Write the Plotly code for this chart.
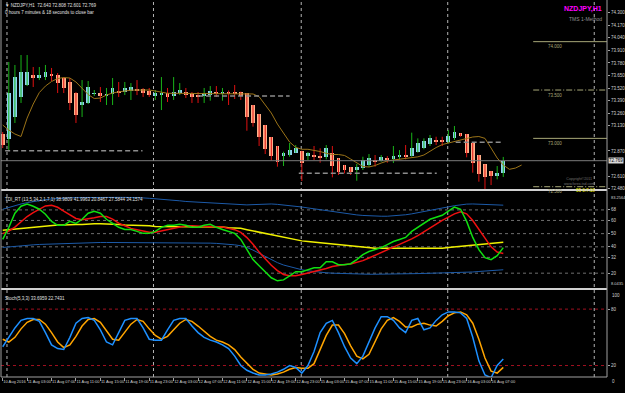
import plotly.graph_objects as go
from plotly.subplots import make_subplots

# ---------------- data ----------------
opens = [73.045, 72.993, 73.221, 73.428, 73.552, 73.655, 73.624, 73.634, 73.666, 73.655,
         73.624, 73.583, 73.469, 73.345, 73.366, 73.459, 73.469, 73.448, 73.459, 73.490,
         73.479, 73.490, 73.510, 73.510, 73.490, 73.438, 73.448, 73.469, 73.438, 73.469,
         73.479, 73.469, 73.448, 73.438, 73.448, 73.479, 73.469, 73.479, 73.479, 73.476,
         73.469, 73.345, 73.252, 73.138, 73.014, 72.921, 72.817, 72.828, 72.852, 72.872,
         72.817, 72.823, 72.817, 72.804, 72.845, 72.793, 72.724, 72.700, 72.673, 72.690,
         72.724, 72.776, 72.769, 72.800, 72.783, 72.804, 72.828, 72.817, 72.862, 72.903,
         72.938, 72.983, 72.976, 72.965, 73.000, 73.052, 73.045, 72.955, 72.828, 72.731,
         72.662, 72.610, 72.643]
highs = [73.066, 73.790, 73.759, 73.862, 73.862, 73.738, 73.738, 73.759, 73.728, 73.676,
         73.634, 73.624, 73.479, 73.603, 73.593, 73.500, 73.531, 73.521, 73.624, 73.583,
         73.583, 73.572, 73.603, 73.521, 73.521, 73.500, 73.634, 73.521, 73.634, 73.572,
         73.521, 73.479, 73.479, 73.521, 73.541, 73.541, 73.521, 73.495, 73.552, 73.483,
         73.469, 73.345, 73.252, 73.138, 73.014, 72.921, 72.862, 72.952, 72.931, 72.872,
         72.859, 72.921, 72.897, 72.931, 72.921, 72.793, 72.724, 72.704, 72.735, 72.810,
         72.838, 72.828, 72.828, 72.817, 72.921, 72.879, 72.931, 73.059, 73.000, 73.000,
         73.035, 73.017, 73.017, 73.086, 73.128, 73.052, 73.045, 72.955, 72.828, 72.731,
         72.662, 72.714, 72.808]
lows = [72.900, 72.879, 73.159, 73.366, 73.541, 73.531, 73.603, 73.603, 73.593, 73.469,
        73.469, 73.293, 73.159, 73.221, 73.355, 73.438, 73.376, 73.345, 73.345, 73.428,
        73.448, 73.397, 73.448, 73.428, 73.428, 73.397, 73.293, 73.376, 73.397, 73.448,
        73.417, 73.366, 73.366, 73.366, 73.390, 73.428, 73.390, 73.345, 73.407, 73.397,
        73.079, 73.121, 72.921, 72.838, 72.769, 72.707, 72.714, 72.810, 72.852, 72.559,
        72.776, 72.776, 72.748, 72.783, 72.597, 72.621, 72.638, 72.621, 72.562, 72.673,
        72.707, 72.707, 72.758, 72.748, 72.745, 72.783, 72.783, 72.810, 72.852, 72.887,
        72.921, 72.931, 72.921, 72.948, 72.983, 73.017, 72.804, 72.645, 72.552, 72.476,
        72.517, 72.576, 72.601]
closes = [72.931, 73.469, 73.634, 73.686, 73.686, 73.624, 73.655, 73.686, 73.645, 73.572,
          73.521, 73.366, 73.241, 73.376, 73.531, 73.469, 73.438, 73.459, 73.521, 73.479,
          73.521, 73.531, 73.500, 73.469, 73.448, 73.469, 73.469, 73.428, 73.479, 73.500,
          73.448, 73.428, 73.428, 73.469, 73.490, 73.469, 73.480, 73.469, 73.469, 73.438,
          73.221, 73.159, 73.014, 72.890, 72.817, 72.758, 72.845, 72.879, 72.900, 72.748,
          72.848, 72.812, 72.793, 72.897, 72.714, 72.655, 72.673, 72.655, 72.707, 72.776,
          72.793, 72.758, 72.810, 72.776, 72.821, 72.828, 72.807, 72.903, 72.948, 72.972,
          73.007, 72.972, 72.969, 73.024, 73.069, 73.024, 72.852, 72.742, 72.631, 72.597,
          72.610, 72.645, 72.769]

# shifted moving average (extends 3 bars past the last candle)
ma = [73.138, 73.086, 73.045, 73.019, 73.210, 73.355, 73.474, 73.541, 73.588, 73.619,
      73.629, 73.624, 73.583, 73.521, 73.453, 73.412, 73.417, 73.448, 73.469, 73.481,
      73.490, 73.498, 73.500, 73.500, 73.500, 73.490, 73.474, 73.466, 73.466, 73.466,
      73.466, 73.466, 73.466, 73.466, 73.466, 73.466, 73.466, 73.466, 73.466, 73.466,
      73.466, 73.459, 73.431, 73.345, 73.262, 73.148, 73.055, 72.962, 72.907, 72.887,
      72.887, 72.879, 72.864, 72.845, 72.833, 72.833, 72.823, 72.786, 72.745, 72.709,
      72.704, 72.719, 72.745, 72.766, 72.776, 72.784, 72.791, 72.802, 72.809, 72.828,
      72.869, 72.905, 72.936, 72.952, 72.967, 72.978, 72.993, 73.014, 73.019, 73.000,
      72.900, 72.797, 72.724, 72.680, 72.693, 72.724]

# dashed support / resistance segments: level, first bar, last bar
sr_level = [72.872, 73.438, 72.638, 72.959]
sr_from = [0.4, 32.0, 48.5, 74.2]
sr_to = [22.9, 47.0, 71.1, 81.7]

# round-number levels (drawn at the right side of the chart)
round_levels = [74.000, 73.500, 73.000, 72.500]
round_solid = [True, False, True, False]
round_text = ["74.000", "73.500", "73.000", "72.500"]
round_from = 86.9

bid = 72.769

price_ticks = [74.300, 74.170, 74.040, 73.910, 73.780, 73.650, 73.520, 73.390,
               73.260, 73.130, 72.870, 72.610, 72.480]

# TDI
tdi_green = [45.6, 54.8, 65.5, 70.8, 72.4, 70.8, 68.5, 64.7, 59.3, 56.3,
             56.3, 59.3, 57.8, 60.9, 65.5, 67.0, 65.5, 60.9, 57.8, 54.8,
             53.2, 53.2, 51.7, 50.2, 50.2, 51.7, 54.8, 56.3, 56.3, 57.1,
             56.3, 54.8, 54.8, 56.3, 57.1, 54.8, 53.2, 51.7, 50.2, 45.6,
             37.9, 30.3, 25.7, 21.1, 16.5, 14.2, 14.9, 18.0, 21.1, 21.1,
             22.6, 24.1, 24.1, 28.7, 28.7, 26.4, 26.4, 27.2, 30.3, 34.1,
             36.4, 37.9, 39.4, 41.7, 44.0, 45.6, 47.1, 51.7, 54.8, 57.8,
             60.9, 62.4, 63.9, 67.0, 70.1, 68.5, 59.3, 47.1, 37.9, 31.8,
             30.3, 33.3, 39.4]
tdi_red = [50, 52, 55, 59, 63, 66, 68.5, 71, 71.5, 70,
           67, 64, 61.5, 60.5, 61, 62, 63, 63, 61, 58,
           56, 54, 53, 52, 51, 51, 52, 53, 54.5, 55.5,
           56, 56, 55.5, 55.5, 55.5, 55.5, 55, 54, 53, 51,
           47, 42, 36, 31, 26, 22, 19, 18, 18, 19,
           20, 21, 22, 23.5, 25, 26, 26.5, 27, 28, 29.5,
           31.5, 33.5, 35.5, 37.5, 39.5, 41.5, 43.5, 46, 48.5, 51.5,
           54.5, 57.5, 60, 62.5, 65, 66.5, 65, 60, 53, 46,
           40, 36, 35]
tdi_yellow = [52.5, 53, 53.5, 54, 54.5, 55, 55.5, 56, 56, 56.5,
              56.5, 57, 57, 57, 57.5, 57.5, 57.5, 57.5, 57, 57,
              56.5, 56.5, 56, 56, 56, 55.5, 55.5, 55.5, 55.5, 55.5,
              55.5, 55.5, 55.5, 55.5, 55.5, 55, 55, 54.5, 54.5, 54,
              53, 52, 51, 50, 49, 48, 47, 46, 45, 44.5,
              44, 43.5, 43, 42.5, 42, 41.5, 41, 40.5, 40, 39.5,
              39.5, 39, 39, 39, 38.5, 38.5, 38.5, 38.5, 38.5, 38.5,
              38.5, 39, 39, 39.5, 40, 40.5, 41, 41.5, 42, 42.5,
              43, 43.3, 43.5]
tdi_upper = [68.5, 70, 71.5, 72.5, 73.5, 74.4, 75.2, 75.8, 76.3, 76.7,
             77, 77.2, 77.3, 77.4, 77.5, 77.5, 77.5, 77.5, 77.5, 77.5,
             77.5, 77.5, 77.3, 77.1, 76.8, 76.5, 76.2, 75.8, 75.3, 74.9,
             74.4, 74.1, 73.8, 73.5, 73.3, 73.1, 72.8, 72.5, 72.2, 72,
             71.8, 72, 72.3, 72.5, 72.5, 72.2, 71.8, 71.3, 70.8, 70.2,
             69.5, 68.8, 68, 67.2, 66.5, 65.8, 65.2, 64.6, 64.2, 63.8,
             63.5, 63.3, 63.2, 63.2, 63.4, 63.8, 64.3, 65, 65.8, 66.7,
             67.6, 68.5, 69.4, 70.3, 71.2, 72, 72.4, 72.5, 72.4, 72.2,
             72, 71.8, 71.6]
tdi_lower = [39.5, 40, 40.5, 41, 41.2, 41.5, 41.8, 42, 42.2, 42.4,
             42.6, 42.8, 43, 43.1, 43.2, 43.3, 43.3, 43.3, 43.3, 43.3,
             43.3, 43.3, 43.3, 43.3, 43.3, 43.3, 43.3, 43.3, 43.2, 43.1,
             43, 43, 43, 42.9, 42.8, 42.6, 42.3, 42, 41.5, 40.8,
             39.5, 37.5, 35, 32.5, 30, 28, 26.2, 24.8, 23.6, 22.6,
             21.8, 21.2, 20.7, 20.3, 20, 19.8, 19.6, 19.4, 19.3, 19.2,
             19.2, 19.2, 19.2, 19.2, 19.3, 19.4, 19.5, 19.6, 19.7, 19.8,
             19.9, 20, 20.1, 20.2, 20.3, 20.4, 20.6, 20.9, 21.3, 21.7,
             22, 22.3, 22.6]
tdi_levels = [68, 60, 50, 40, 32, 20]
tdi_max_text = "83.2564"
tdi_min_text = "8.0435"

# Stochastic
stoch_k = [40, 50, 60, 68, 70, 70, 67, 55, 42, 38,
           37, 50, 65, 70, 71, 68, 58, 45, 42, 55,
           68, 70, 70, 60, 48, 47, 47, 58, 68, 70,
           70, 62, 55, 50, 47, 45, 42, 38, 30, 20,
           15, 12, 10, 10, 11, 13, 16, 20, 18, 12,
           20, 35, 55, 65, 68, 55, 40, 28, 22, 30,
           45, 60, 72, 72, 68, 60, 55, 68, 70, 58,
           60, 68, 74, 77, 77, 76, 70, 50, 25, 10,
           7, 20, 27]
stoch_d = [48, 45, 50, 59, 66, 69, 69, 64, 55, 45,
           39, 42, 51, 62, 69, 70, 66, 57, 48, 47,
           55, 64, 69, 67, 59, 52, 48, 51, 58, 65,
           69, 67, 62, 56, 51, 47, 45, 42, 37, 29,
           22, 16, 12, 11, 10, 11, 13, 16, 18, 17,
           17, 22, 37, 52, 63, 63, 54, 41, 30, 27,
           32, 45, 59, 68, 71, 67, 61, 61, 64, 65,
           63, 62, 67, 73, 76, 77, 74, 65, 48, 28,
           14, 12, 18]
stoch_levels = [80, 20]

tick_pos = [0, 4, 8, 12, 16, 20, 24, 28, 32, 36, 40, 44, 48, 52, 56, 60, 64, 68, 72, 76, 80]
tick_text = ["10 Aug 2016", "11 Aug 03:00", "11 Aug 07:00", "11 Aug 11:00", "11 Aug 15:00",
             "11 Aug 19:00", "11 Aug 23:00", "12 Aug 03:00", "12 Aug 07:00", "12 Aug 11:00",
             "12 Aug 15:00", "12 Aug 19:00", "12 Aug 23:00", "15 Aug 03:00", "15 Aug 07:00",
             "15 Aug 11:00", "15 Aug 15:00", "15 Aug 19:00", "15 Aug 23:00", "16 Aug 03:00",
             "16 Aug 07:00"]
day_breaks = [0.7, 24.7, 48.9, 72.9, 96.9]

# ---------------- figure ----------------
W, H = 625, 393
ML, MR, MT, MB = 1, 16, 0, 16
PH = H - MT - MB
XR = [-0.28, 98.99]

fig = make_subplots(rows=3, cols=1, shared_xaxes=True, vertical_spacing=0)

n = len(opens)
xs = list(range(n))

# wicks
bw_x, bw_y, rw_x, rw_y = [], [], [], []
for i in xs:
    if closes[i] >= opens[i]:
        bw_x += [i, i, None]; bw_y += [lows[i], highs[i], None]
    else:
        rw_x += [i, i, None]; rw_y += [lows[i], highs[i], None]
fig.add_trace(go.Scatter(x=bw_x, y=bw_y, mode="lines", line=dict(color="#18b418", width=1),
                         hoverinfo="skip"), row=1, col=1)
fig.add_trace(go.Scatter(x=rw_x, y=rw_y, mode="lines", line=dict(color="#e01010", width=1),
                         hoverinfo="skip"), row=1, col=1)

# bodies
MINB = 0.009
bx, bb, bh, sx, sb, sh = [], [], [], [], [], []
for i in xs:
    lo, hi = min(opens[i], closes[i]), max(opens[i], closes[i])
    if hi - lo < MINB:
        mid = (hi + lo) / 2
        lo, hi = mid - MINB / 2, mid + MINB / 2
    if closes[i] >= opens[i]:
        bx.append(i); bb.append(lo); bh.append(hi - lo)
    else:
        sx.append(i); sb.append(lo); sh.append(hi - lo)
fig.add_trace(go.Bar(x=bx, y=bh, base=bb, width=0.62, marker=dict(color="#8fd3f0", line=dict(width=0))),
              row=1, col=1)
fig.add_trace(go.Bar(x=sx, y=sh, base=sb, width=0.62, marker=dict(color="#ffb08a", line=dict(width=0))),
              row=1, col=1)

# MA
fig.add_trace(go.Scatter(x=list(range(len(ma))), y=ma, mode="lines",
                         line=dict(color="#9c7418", width=1)), row=1, col=1)

# bid line
fig.add_trace(go.Scatter(x=XR, y=[bid, bid], mode="lines", line=dict(color="#7a7a7a", width=1)),
              row=1, col=1)

# dashed S/R
for lv, a, b in zip(sr_level, sr_from, sr_to):
    fig.add_trace(go.Scatter(x=[a, b], y=[lv, lv], mode="lines",
                             line=dict(color="#8c8c8c", width=1.5, dash="5px,3px")), row=1, col=1)

# round levels
for lv, solid in zip(round_levels, round_solid):
    fig.add_trace(go.Scatter(x=[round_from, XR[1]], y=[lv, lv], mode="lines",
                             line=dict(color="#a8a878", width=1, dash="solid" if solid else "6px,2px,1px,2px")),
                  row=1, col=1)

# TDI
fig.add_trace(go.Scatter(x=xs, y=tdi_upper, mode="lines", line=dict(color="#1c5aa8", width=1)), row=2, col=1)
fig.add_trace(go.Scatter(x=xs, y=tdi_lower, mode="lines", line=dict(color="#1c5aa8", width=1)), row=2, col=1)
fig.add_trace(go.Scatter(x=xs, y=tdi_yellow, mode="lines", line=dict(color="#f0f000", width=1.5)), row=2, col=1)
fig.add_trace(go.Scatter(x=xs, y=tdi_red, mode="lines", line=dict(color="#f01010", width=1.5)), row=2, col=1)
fig.add_trace(go.Scatter(x=xs, y=tdi_green, mode="lines", line=dict(color="#10e010", width=1.5)), row=2, col=1)

# Stochastic
fig.add_trace(go.Scatter(x=xs, y=stoch_d, mode="lines", line=dict(color="#ffa500", width=1.5)), row=3, col=1)
fig.add_trace(go.Scatter(x=xs, y=stoch_k, mode="lines", line=dict(color="#1e90ff", width=1.5)), row=3, col=1)

shapes = []
for lv in tdi_levels:
    shapes.append(dict(type="line", xref="x2", yref="y2", x0=XR[0], x1=XR[1], y0=lv, y1=lv,
                       line=dict(color="#6e6e6e", width=1, dash="dot"), layer="below"))
for lv in stoch_levels:
    shapes.append(dict(type="line", xref="x3", yref="y3", x0=XR[0], x1=XR[1], y0=lv, y1=lv,
                       line=dict(color="#a01020", width=1, dash="dot"), layer="below"))
for d in day_breaks:
    shapes.append(dict(type="line", xref="x", yref="paper", x0=d, x1=d, y0=0, y1=1,
                       line=dict(color="#b4b4b4", width=1, dash="dot"), layer="below"))
# panel separators and frame
f1 = 187 / PH
f2 = 88 / PH
for f in (f1, f2):
    shapes.append(dict(type="line", xref="paper", yref="paper", x0=0, x1=1, y0=f, y1=f,
                       line=dict(color="#d0d0d0", width=2)))
shapes.append(dict(type="line", xref="paper", yref="paper", x0=1, x1=1, y0=0, y1=1,
                   line=dict(color="#a0a0a0", width=1)))
shapes.append(dict(type="line", xref="paper", yref="paper", x0=0, x1=0, y0=0, y1=1,
                   line=dict(color="#a0a0a0", width=1)))
shapes.append(dict(type="line", xref="paper", yref="paper", x0=0, x1=1, y0=0, y1=0,
                   line=dict(color="#a0a0a0", width=1)))

FONT = "Liberation Sans, Arial, sans-serif"
ann = []
ann.append(dict(xref="paper", yref="paper", x=0.004, y=0.998, xanchor="left", yanchor="top",
                text="▼ NZDJPY,H1  72.643 72.808 72.601 72.769", showarrow=False,
                font=dict(size=4.5, color="#e0e0e0", family=FONT)))
ann.append(dict(xref="paper", yref="paper", x=0.004, y=0.980, xanchor="left", yanchor="top",
                text="0 hours 7 minutes & 18 seconds to close bar", showarrow=False,
                font=dict(size=4.5, color="#e0e0e0", family=FONT)))
ann.append(dict(xref="paper", yref="paper", x=0.995, y=0.992, xanchor="right", yanchor="top",
                text="<b>NZDJPY,H1</b>", showarrow=False, font=dict(size=7, color="#ff00ff", family=FONT)))
ann.append(dict(xref="paper", yref="paper", x=0.995, y=0.963, xanchor="right", yanchor="top",
                text="TMS 1-Method", showarrow=False, font=dict(size=5, color="#909090", family=FONT)))
for lv, t in zip(round_levels, round_text):
    ann.append(dict(xref="x", yref="y", x=89.0, y=lv, xanchor="left", yanchor="top", yshift=-0.5,
                    text=t, showarrow=False, font=dict(size=4.5, color="#a8a878", family=FONT)))
ann.append(dict(xref="paper", yref="paper", x=1.0, y=(bid - 72.466) / (74.431 - 72.466) * (1 - f1) + f1,
                xanchor="left", yanchor="middle", text="72.769", showarrow=False, bgcolor="#d8d8d8",
                borderpad=0, xshift=1, font=dict(size=4.5, color="#000000", family=FONT)))
ann.append(dict(xref="paper", yref="paper", x=0.925, y=(1 - 175 / PH), xanchor="left", yanchor="top",
                text="Copyright©2011<br>www.forex-tsd.com", showarrow=False,
                font=dict(size=3.6, color="#707070", family=FONT)))
ann.append(dict(xref="paper", yref="paper", x=0.945, y=(1 - 186 / PH), xanchor="left", yanchor="top",
                text="55 0:7:18", showarrow=False, font=dict(size=4.5, color="#e8e800", family=FONT)))
ann.append(dict(xref="paper", yref="paper", x=0.004, y=f1 - 0.012, xanchor="left", yanchor="top",
                text="TDI_RT (13,5,34,2,1,7,1) 38.9809 41.9963 20.8467 27.5844 34.1574", showarrow=False,
                font=dict(size=4.5, color="#e0e0e0", family=FONT)))
ann.append(dict(xref="paper", yref="paper", x=0.004, y=f2 - 0.012, xanchor="left", yanchor="top",
                text="Stoch(5,3,3) 33.6959 22.7431", showarrow=False,
                font=dict(size=4.5, color="#e0e0e0", family=FONT)))
# indicator window max/min labels on the right scale
ann.append(dict(xref="paper", yref="paper", x=1.0, y=f1 - 0.008, xanchor="left", yanchor="top", xshift=2,
                text=tdi_max_text, showarrow=False, font=dict(size=4, color="#d0d0d0", family=FONT)))
ann.append(dict(xref="paper", yref="paper", x=1.0, y=f2 + 0.002, xanchor="left", yanchor="bottom", xshift=2,
                text=tdi_min_text, showarrow=False, font=dict(size=4, color="#d0d0d0", family=FONT)))
ann.append(dict(xref="paper", yref="paper", x=1.0, y=f2 - 0.004, xanchor="left", yanchor="top", xshift=3,
                text="100", showarrow=False, font=dict(size=4.5, color="#d0d0d0", family=FONT)))
ann.append(dict(xref="paper", yref="paper", x=1.0, y=0, xanchor="left", yanchor="top", xshift=3,
                text="0", showarrow=False, font=dict(size=4.5, color="#d0d0d0", family=FONT)))

fig.update_layout(
    width=W, height=H, margin=dict(l=ML, r=MR, t=MT, b=MB),
    paper_bgcolor="#000000", plot_bgcolor="#000000", showlegend=False,
    barmode="overlay", bargap=0, shapes=shapes, annotations=ann,
    font=dict(family=FONT, color="#d0d0d0", size=5),
)

axis_common = dict(showgrid=False, zeroline=False, showline=False)
for r in (1, 2, 3):
    fig.update_xaxes(range=XR, row=r, col=1, **axis_common)
fig.update_xaxes(showticklabels=False, row=1, col=1)
fig.update_xaxes(showticklabels=False, row=2, col=1)
fig.update_xaxes(tickvals=tick_pos, ticktext=tick_text, ticks="outside", ticklen=3, tickcolor="#a0a0a0",
                 ticklabelposition="outside right", tickangle=0, tickfont=dict(size=4, color="#d0d0d0"),
                 row=3, col=1)

fig.update_yaxes(domain=[f1, 1], range=[72.466, 74.431], side="right", tickvals=price_ticks,
                 tickformat=".3f", ticks="outside", ticklen=2, tickcolor="#a0a0a0",
                 tickfont=dict(size=4.5, color="#d0d0d0"), row=1, col=1, **axis_common)
fig.update_yaxes(domain=[f2, f1], range=[8.0, 83.1], side="right", tickvals=tdi_levels,
                 ticks="outside", ticklen=2, tickcolor="#a0a0a0",
                 tickfont=dict(size=4.5, color="#d0d0d0"), row=2, col=1, **axis_common)
fig.update_yaxes(domain=[0, f2], range=[7.8, 101.4], side="right", tickvals=stoch_levels,
                 ticks="outside", ticklen=2, tickcolor="#a0a0a0",
                 tickfont=dict(size=4.5, color="#d0d0d0"), row=3, col=1, **axis_common)

fig.write_html("out.html")
